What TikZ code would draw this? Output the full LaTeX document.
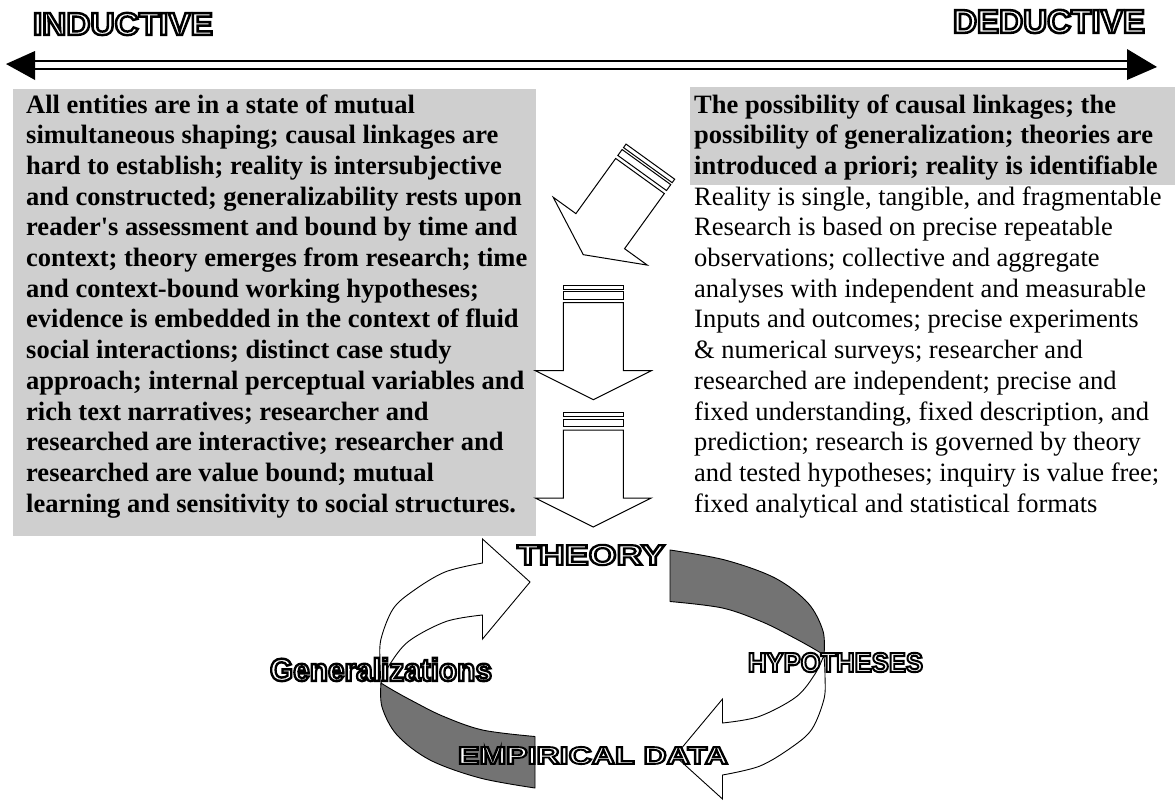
\documentclass[tikz,border=0pt]{standalone}
\usepackage{fontspec}
\usepackage{graphicx}
\setmainfont{Liberation Serif}
\newfontfamily\tagfont{Liberation Sans}
\usetikzlibrary{calc}

% hollow lettering: glyphs filled white and stroked black (PDF text render mode 2)
\newcommand\hollow[1]{%
  \special{pdf:literal direct 2 Tr 2.3 w 1 g 0 G}#1\special{pdf:literal direct 0 Tr 0 g 0 G}}
% hollow label squeezed into a given width and height
\newcommand\hollowtag[3]{\resizebox{#1pt}{#2pt}{\hollow{#3}}}

% one half of the twisted ribbon: shaded back, then white front with arrow head
\newcommand\ribbonhalf{%
  \draw[darkband] plot[smooth, tension=0.55] coordinates {(381,683) (382,707) (397,735) (430,760) (480,778) (535,788)}
    -- (535,736.5)
    -- plot[smooth, tension=0.55] coordinates {(535,736.5) (482.5,730) (442.5,716) (412.5,701) (392.5,690) (381,683)}
    -- cycle;
  \draw[ribbon] plot[smooth, tension=0.55] coordinates {(381,683) (380,662) (381,639) (393,609) (413,591) (445,572) (482.5,563)}
    -- (482.5,539) -- (530,582) -- (482.5,639) -- (482.5,615)
    -- plot[smooth, tension=0.55] coordinates {(482.5,615) (446,621.5) (409,641) (390,664) (381,683)}
    -- cycle;}

\begin{document}
\begin{tikzpicture}[x=1pt,y=-1pt,
  stipple/.style={fill=black!19},
  darkband/.style={fill=black!55, draw=black, line width=0.9pt, line join=round},
  ribbon/.style={fill=white, draw=black, line width=0.9pt, line join=miter},
  blockarrow/.style={fill=white, draw=black, line width=1pt, line join=miter},
  tag/.style={inner sep=0pt, font=\tagfont\bfseries\fontsize{30}{30}\selectfont},
  para/.style={inner sep=0pt, anchor=base west, font=\fontsize{26.5}{30.7}\selectfont},
  pics/stackarrow/.style={code={
    \draw[blockarrow] (-30,-17.7) rectangle (30,-13.4);
    \draw[blockarrow] (-30,-11) rectangle (30,-3.7);
    \draw[blockarrow] (-30,0) -- (-30,68) -- (-58,68) -- (0,97) -- (58,68) -- (30,68) -- (30,0) -- cycle;}}
]
\fill[white] (0,0) rectangle (1175,803);
\useasboundingbox (0,0) rectangle (1175,803);

% shaded panels behind the text
\fill[stipple] (13,89) rectangle (536,536);
\fill[stipple] (690,87) rectangle (1175,185);

% inductive / deductive scale
\coordinate (wtip) at (6,64);
\coordinate (etip) at (1157,67);
\draw[line width=1.4pt] (35,61) -- (1127,61);
\draw[line width=2.6pt] (35,69) -- (1127,69);
\fill (wtip) -- (35,51) -- (35,80) -- cycle;
\fill (etip) -- (1127,49) -- (1127,80) -- cycle;
\node[tag] (inductive) at (123,24) {\hollowtag{180}{22}{INDUCTIVE}};
\node[tag] (deductive) at (1049,21.5) {\hollowtag{192}{23}{DEDUCTIVE}};

% inductive assumptions
\node[para] (inductivetext) at (26,113) {\bfseries\vtop{%
  \hbox{All entities are in a state of mutual}
  \hbox{simultaneous shaping; causal linkages are}
  \hbox{hard to establish; reality is intersubjective}
  \hbox{and constructed; generalizability rests upon}
  \hbox{reader\textquotesingle s assessment and bound by time and}
  \hbox{context; theory emerges from research; time}
  \hbox{and context-bound working hypotheses;}
  \hbox{evidence is embedded in the context of fluid}
  \hbox{social interactions; distinct case study}
  \hbox{approach; internal perceptual variables and}
  \hbox{rich text narratives; researcher and}
  \hbox{researched are interactive; researcher and}
  \hbox{researched are value bound; mutual}
  \hbox{learning and sensitivity to social structures.}}};

% deductive assumptions
\node[para] (deductivetext) at (694,113) {\vtop{%
  \bfseries
  \hbox{The possibility of causal linkages; the}
  \hbox{possibility of generalization; theories are}
  \hbox{introduced a priori; reality is identifiable}
  \mdseries
  \hbox{Reality is single, tangible, and fragmentable}
  \hbox{Research is based on precise repeatable}
  \hbox{observations; collective and aggregate}
  \hbox{analyses with independent and measurable}
  \hbox{Inputs and outcomes; precise experiments}
  \hbox{\& numerical surveys; researcher and}
  \hbox{researched are independent; precise and}
  \hbox{fixed understanding, fixed description, and}
  \hbox{prediction; research is governed by theory}
  \hbox{and tested hypotheses; inquiry is value free;}
  \hbox{fixed analytical and statistical formats}}};

% block arrows leading down to theory
\pic (slantarrow) at (640,176) [rotate=-35.8] {stackarrow};
\pic (upperarrow) at (593.3,302.7) {stackarrow};
\pic (lowerarrow) at (593.3,430) {stackarrow};

% research cycle: two identical halves, the second turned half a revolution
\coordinate (hub) at (602.5,669);
\ribbonhalf
\begin{scope}[rotate around={180:(hub)}]
  \ribbonhalf
\end{scope}

\node[tag] (theory) at (591,555) {\hollowtag{148}{20}{THEORY}};
\node[tag] (hypotheses) at (835.5,662.5) {\hollowtag{175}{19}{HYPOTHESES}};
\node[tag] (empirical) at (593,755.5) {\hollowtag{270}{17}{EMPIRICAL DATA}};
\node[tag] (generalizations) at (381,669.5) {\hollowtag{222}{23}{Generalizations}};
\end{tikzpicture}
\end{document}
